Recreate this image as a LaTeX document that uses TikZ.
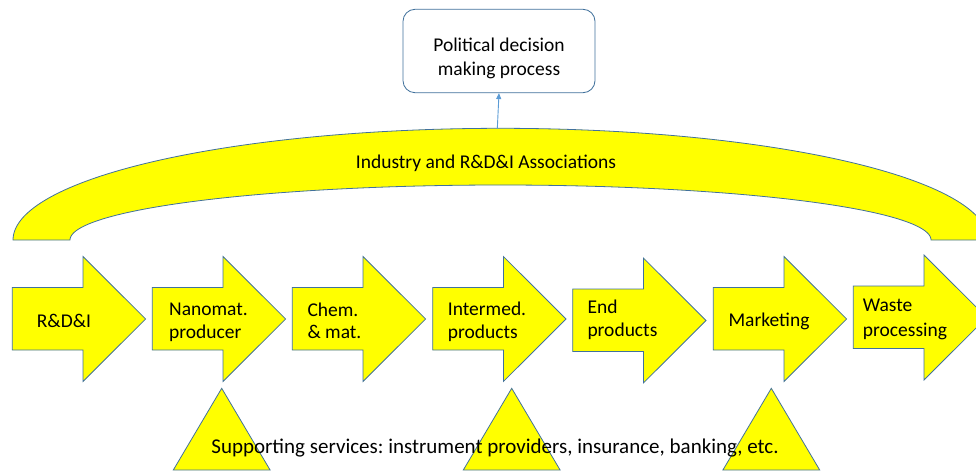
\documentclass[tikz,border=0pt]{standalone}
\usepackage{fontspec}
\setmainfont{Carlito}
\frenchspacing
\usetikzlibrary{arrows.meta}
\definecolor{fillyel}{HTML}{FFFF00}
\definecolor{edgeblue}{HTML}{41719C}
\definecolor{linkblue}{HTML}{5B9BD5}
\begin{document}
\begin{tikzpicture}[x=1pt,y=-1pt,
  yshape/.style={fill=fillyel,draw=edgeblue,line width=0.8pt,line join=miter},
  txt/.style={font=\fontsize{19.5}{23.5}\selectfont,inner sep=0pt,anchor=base west},
  ctxt/.style={font=\fontsize{19.5}{23.5}\selectfont,inner sep=0pt,anchor=base},
  polbox/.style={draw=edgeblue,fill=white,line width=0.8pt,rounded corners=12pt,
    minimum width=192pt,minimum height=83.4pt,inner sep=0pt},
  link/.style={draw=linkblue,line width=0.9pt,-{Triangle[length=6pt,width=5pt]}}
 ]
\useasboundingbox (0,0) rectangle (976,473);
\begin{scope}
\clip (0,0) rectangle (976,473);
% arch (Industry and R&D&I Associations)
\path[yshape] plot[domain=180:0,samples=150] ({500.5+487.5*cos(\x)},{240-111.7*sin(\x)})
  -- (931,240)
  -- plot[domain=0:180,samples=150] ({500.5+430.5*cos(\x)},{240-55*sin(\x)})
  -- cycle;
\coordinate (archtop) at (497.3,128.6);
\node[ctxt] (assoc) at (486,168.3) {Industry and R\&D\&I Associations};
% political box
\node[polbox] (pol) at (499,51) {};
\node[ctxt] (pol1) at (499,51.2) {Political decision};
\node[ctxt] (pol2) at (499,75.2) {making process};
\draw[link] (archtop) -- (pol.south);
% value chain arrows
\foreach \L/\dy in {12.3/0,152.3/0,292.3/0,432.7/0,572.7/1.5,713.3/0,853.3/-1.5}
  \path[yshape] (\L,{287.5+\dy}) -- ({\L+70.7},{287.5+\dy}) -- ({\L+70.7},{256.5+\dy})
    -- ({\L+133.3},{319+\dy}) -- ({\L+70.7},{381.5+\dy}) -- ({\L+70.7},{350+\dy})
    -- (\L,{350+\dy}) -- cycle;
\node[txt] (a1) at (36.7,327.3) {R\&D\&I};
\node[txt] (a2a) at (169,315) {Nanomat.};
\node[txt] (a2b) at (169,338.3) {producer};
\node[txt] (a3a) at (307.3,316.7) {Chem.};
\node[txt] (a3b) at (307.3,338.3) {\& mat.};
\node[txt] (a4a) at (447.7,315.7) {Intermed.};
\node[txt] (a4b) at (447.7,338.3) {products};
\node[txt] (a5a) at (587.3,313.3) {End};
\node[txt] (a5b) at (587.3,336.7) {products};
\node[txt] (a6) at (728.3,326.7) {Marketing};
\node[txt] (a7a) at (862.7,311.7) {Waste};
\node[txt] (a7b) at (862.7,336.7) {processing};
% supporting triangles
\foreach \c in {221.7,511.7,771.3}
  \path[yshape] (\c,388.3) -- ({\c+48.4},470) -- ({\c-48.4},470) -- cycle;
\node[ctxt,font=\fontsize{21}{25}\selectfont] (supp) at (495,453.3) {Supporting services: instrument providers, insurance, banking, etc.};
\end{scope}
\end{tikzpicture}
\end{document}
